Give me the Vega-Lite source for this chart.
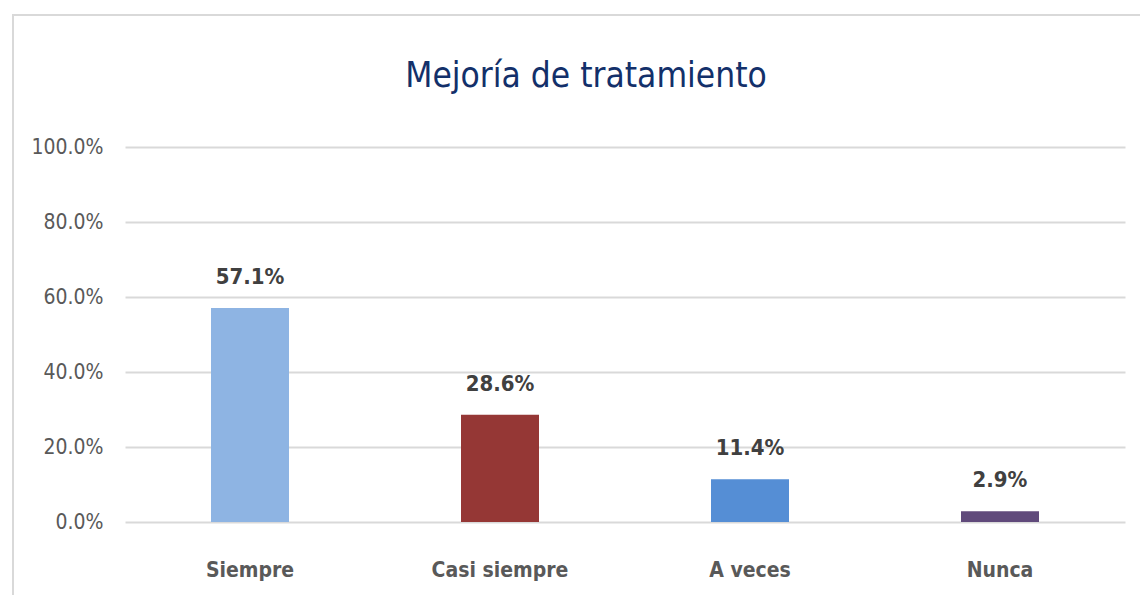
{
  "$schema": "https://vega.github.io/schema/vega-lite/v6.json",
  "autosize": {"type": "none"},
  "padding": {"left": 13, "top": 15, "right": 0, "bottom": 0},
  "width": 1140,
  "height": 590,
  "background": "#ffffff",
  "title": {
    "text": "Mejoría de tratamiento",
    "font": "DejaVu Sans Condensed",
    "fontSize": 35,
    "fontWeight": "normal",
    "color": "#13306a",
    "anchor": "middle",
    "frame": "group",
    "baseline": "alphabetic",
    "offset": -107,
    "dx": 3
  },
  "config": {
    "view": {"stroke": "#d9d9d9", "strokeWidth": 2}
  },
  "data": {
    "values": [
      {"categoria": "Siempre", "porcentaje": 0.571},
      {"categoria": "Casi siempre", "porcentaje": 0.286},
      {"categoria": "A veces", "porcentaje": 0.114},
      {"categoria": "Nunca", "porcentaje": 0.029}
    ]
  },
  "encoding": {
    "x": {
      "field": "categoria",
      "type": "nominal",
      "sort": null,
      "scale": {"range": [112, 1112], "paddingInner": 0.688, "paddingOuter": 0.344},
      "axis": {
        "title": null,
        "orient": "bottom",
        "offset": -78,
        "domain": false,
        "ticks": false,
        "tickSize": 0,
        "grid": false,
        "labelAngle": 0,
        "labelFont": "DejaVu Sans Condensed",
        "labelFontSize": 21,
        "labelFontWeight": "bold",
        "labelColor": "#595959",
        "labelBaseline": "alphabetic",
        "labelPadding": 49
      }
    },
    "y": {
      "field": "porcentaje",
      "type": "quantitative",
      "scale": {"domain": [0, 1], "range": [507, 132], "nice": false, "zero": true},
      "axis": {
        "title": null,
        "values": [0, 0.2, 0.4, 0.6, 0.8, 1],
        "format": ".1%",
        "offset": -90,
        "domain": false,
        "ticks": false,
        "tickSize": 0,
        "labelPadding": 0,
        "labelFont": "DejaVu Sans Condensed",
        "labelFontSize": 21,
        "labelColor": "#595959",
        "grid": true,
        "gridColor": "#d9d9d9",
        "gridWidth": 2
      }
    }
  },
  "layer": [
    {
      "mark": {"type": "bar"},
      "encoding": {
        "color": {
          "field": "categoria",
          "type": "nominal",
          "sort": null,
          "scale": {
            "domain": ["Siempre", "Casi siempre", "A veces", "Nunca"],
            "range": ["#8eb4e3", "#953735", "#558ed5", "#604a7b"]
          },
          "legend": null
        }
      }
    },
    {
      "mark": {
        "type": "text",
        "font": "DejaVu Sans Condensed",
        "fontSize": 22,
        "fontWeight": "bold",
        "color": "#404040",
        "baseline": "alphabetic",
        "dy": -24
      },
      "encoding": {
        "text": {"field": "porcentaje", "type": "quantitative", "format": ".1%"}
      }
    }
  ]
}
